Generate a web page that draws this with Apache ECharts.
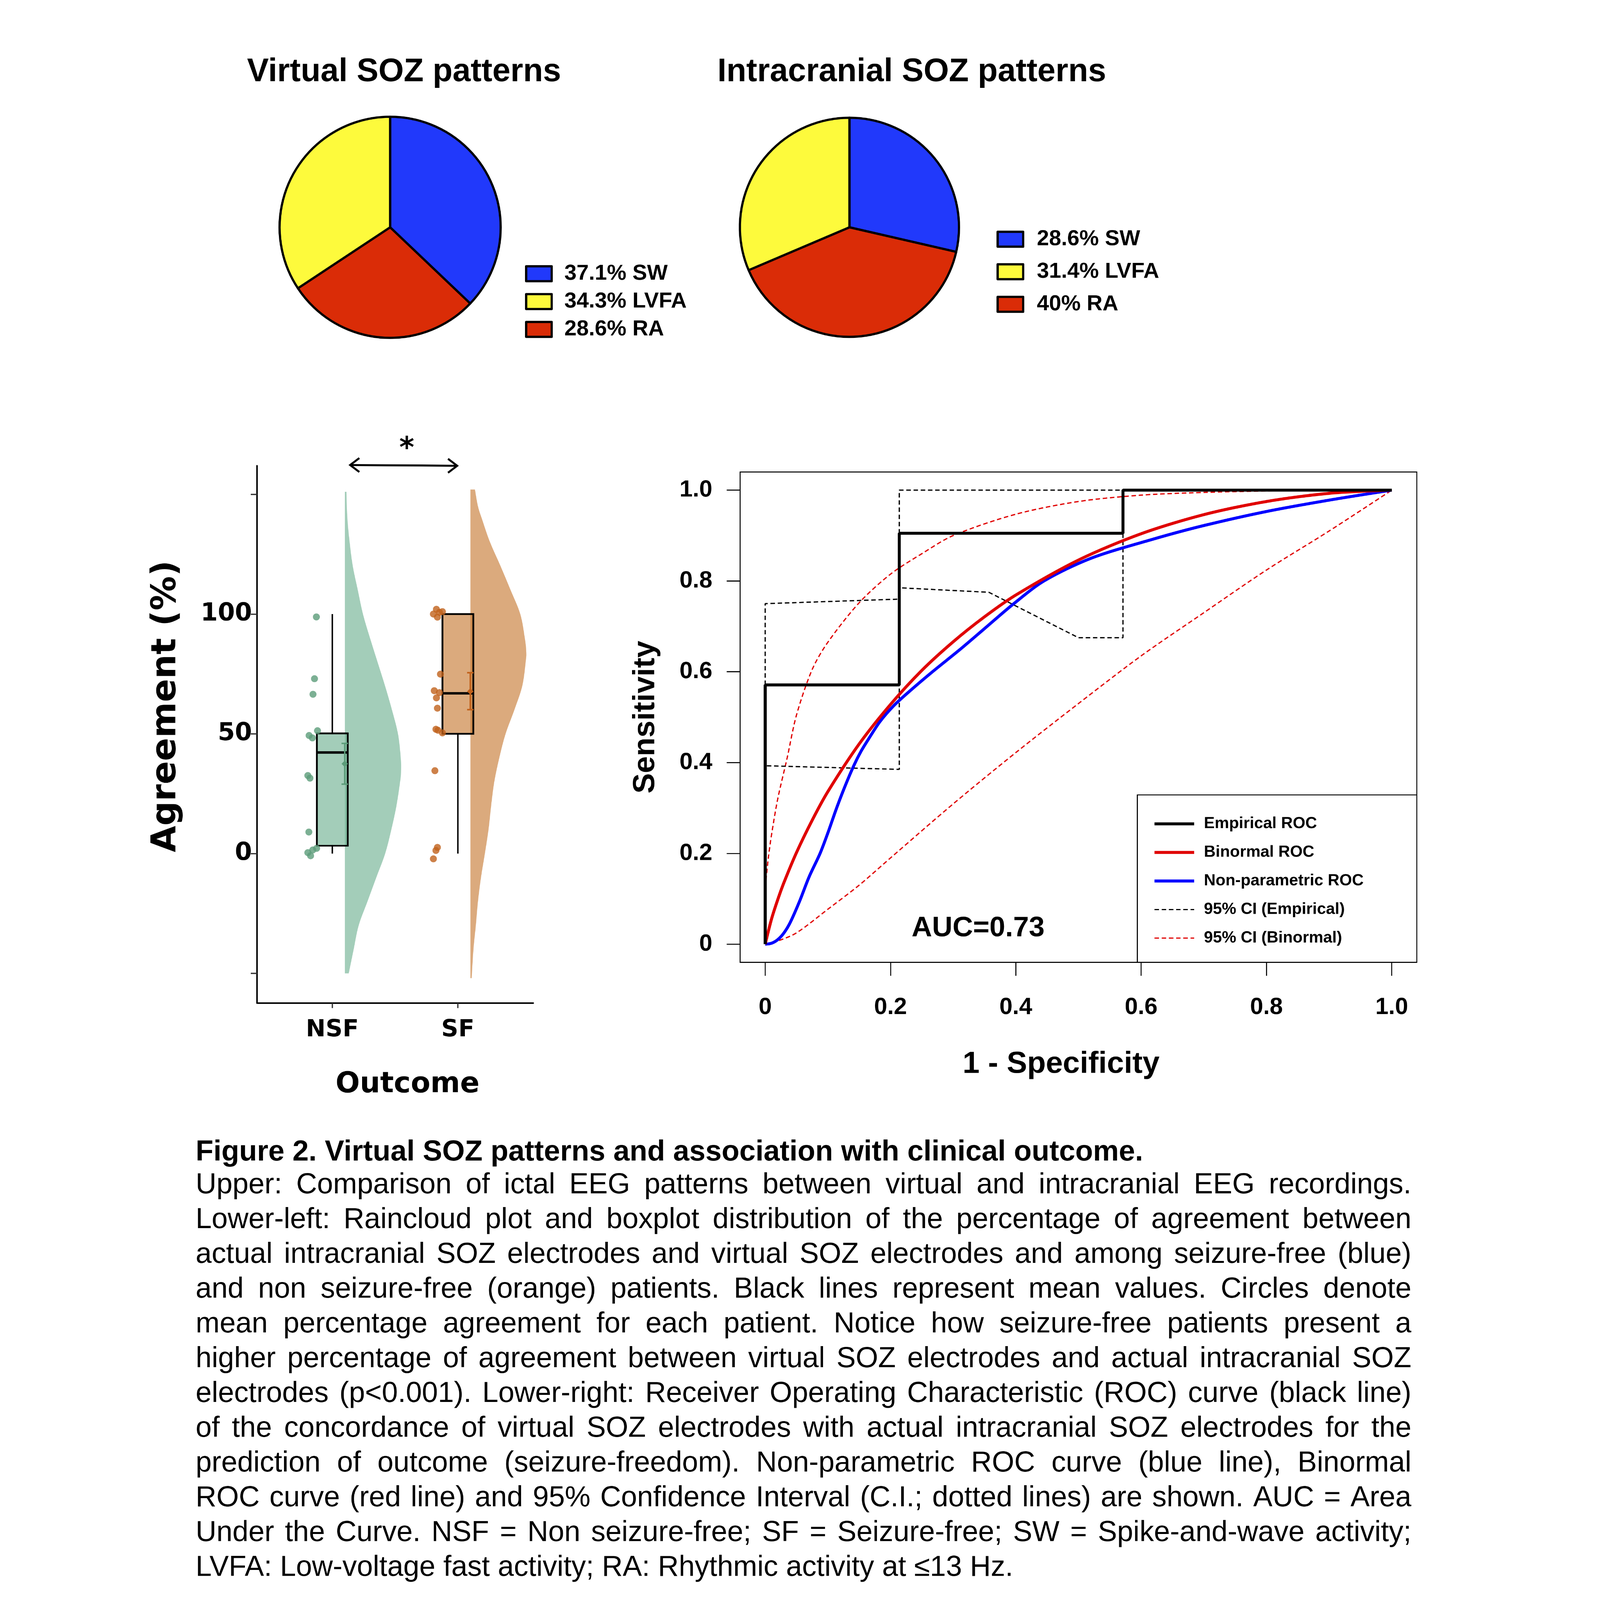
<!DOCTYPE html>
<html><head><meta charset="utf-8">
<script src="https://cdn.jsdelivr.net/npm/echarts@6/dist/echarts.min.js"></script>
<style>html,body{margin:0;padding:0;background:#fff;overflow:hidden}#c{width:5608px;height:6441px;transform-origin:0 0}</style>
</head><body><div id="c"></div>
<script>
// ---------------- DATA ----------------
const pieCategories = ['SW', 'LVFA', 'RA'];
const virtualPct = [37.1, 34.3, 28.6];
const intracranialPct = [28.6, 31.4, 40];
const sliceOrder = ['SW', 'RA', 'LVFA'];

const groups = ['NSF', 'SF'];
const nsfJitterX = [0.873, 0.858, 0.846, 0.882, 0.815, 0.841, 0.805, 0.822, 0.813, 0.875, 0.844, 0.805, 0.827];
const nsfAgreement = [98.8, 73, 66.5, 51.3, 49.3, 48.3, 32.6, 31.5, 9, 2.2, 1.5, 0.4, -0.9];
const sfJitterX = [1.829, 1.805, 1.853, 1.877, 1.837, 1.861, 1.812, 1.853, 1.829, 1.837, 1.825, 1.841, 1.877, 1.817, 1.837, 1.825, 1.805];
const sfAgreement = [102, 100, 100.7, 101, 98.7, 74.9, 68, 67.2, 65, 60.7, 51.9, 51.5, 50.4, 34.6, 2.6, 1.3, -2.2];
// [lower whisker, Q1, median, Q3, upper whisker]
const boxStats = [[0, 3.3, 42.2, 50.2, 100], [0, 50, 66.9, 100, 100]];
// [mean, lower, upper]
const meanStats = [[37.5, 29.0, 46.0], [67.7, 60.1, 75.5]];
const nsfCloudY = [151, 140, 130, 120, 110, 100, 90, 80, 70, 60, 50, 40, 34, 30, 20, 10, 0, -10, -20, -30, -40, -50];
const nsfCloudW = [0.012, 0.02, 0.038, 0.063, 0.103, 0.144, 0.2, 0.26, 0.32, 0.375, 0.423, 0.445, 0.447, 0.44, 0.411, 0.37, 0.321, 0.25, 0.18, 0.11, 0.07, 0.031];
const sfCloudY = [152, 145, 140, 130, 120, 110, 100, 90, 84, 80, 70, 60, 50, 40, 30, 20, 10, 0, -10, -20, -30, -40, -52];
const sfCloudW = [0.036, 0.06, 0.09, 0.156, 0.24, 0.32, 0.397, 0.433, 0.445, 0.44, 0.413, 0.35, 0.28, 0.23, 0.19, 0.165, 0.144, 0.115, 0.084, 0.06, 0.043, 0.024, 0.01];
const agreementTicks = [-50, 0, 50, 100, 150];
const agreementLabels = [0, 50, 100];

const rocTicks = [0, 0.2, 0.4, 0.6, 0.8, 1];
const empiricalFpr = [0, 0, 0.214, 0.214, 0.571, 0.571, 1];
const empiricalTpr = [0, 0.571, 0.571, 0.905, 0.905, 1, 1];
const binormalFpr = [0, 0.01, 0.02, 0.03, 0.05, 0.075, 0.1, 0.15, 0.2, 0.25, 0.3, 0.35, 0.4, 0.5, 0.6, 0.7, 0.8, 0.9, 1];
const binormalTpr = [0, 0.055, 0.098, 0.136, 0.202, 0.273, 0.336, 0.441, 0.528, 0.603, 0.666, 0.721, 0.769, 0.846, 0.904, 0.946, 0.975, 0.993, 1];
const nonparFpr = [0, 0.01, 0.02, 0.03, 0.04, 0.055, 0.07, 0.0876, 0.1, 0.114, 0.128, 0.142, 0.153, 0.165, 0.183, 0.205, 0.227, 0.267, 0.31, 0.35, 0.395, 0.445, 0.52, 0.619, 0.7, 0.8, 0.9, 1];
const nonparTpr = [0, 0.002, 0.01, 0.025, 0.048, 0.095, 0.148, 0.2, 0.245, 0.3, 0.35, 0.395, 0.425, 0.452, 0.49, 0.525, 0.553, 0.6, 0.648, 0.695, 0.748, 0.8, 0.85, 0.892, 0.922, 0.953, 0.978, 1];
const empCiUpperFpr = [0, 0, 0.214, 0.214, 1];
const empCiUpperTpr = [0, 0.75, 0.76, 1, 1];
const empCiLowerFpr = [0, 0, 0.214, 0.214, 0.357, 0.5, 0.571, 0.571, 1];
const empCiLowerTpr = [0, 0.393, 0.385, 0.785, 0.775, 0.675, 0.675, 1, 1];
const binCiUpperFpr = [0, 0.005, 0.01, 0.02, 0.035, 0.05, 0.075, 0.1, 0.15, 0.2, 0.25, 0.3, 0.4, 0.5, 0.6, 0.7, 0.8, 1];
const binCiUpperTpr = [0.125, 0.19, 0.24, 0.32, 0.41, 0.505, 0.605, 0.665, 0.752, 0.815, 0.86, 0.9, 0.947, 0.975, 0.989, 0.995, 0.998, 1];
const binCiLowerFpr = [0, 0.02, 0.05, 0.1, 0.15, 0.2, 0.3, 0.4, 0.5, 0.6, 0.7, 0.8, 0.9, 1];
const binCiLowerTpr = [0, 0.007, 0.025, 0.077, 0.13, 0.19, 0.309, 0.422, 0.53, 0.635, 0.73, 0.824, 0.91, 1];
const aucText = 'AUC=0.73';

const captionTitle = 'Figure 2. Virtual SOZ patterns and association with clinical outcome.';
const captionLines = [
  'Upper: Comparison of ictal EEG patterns between virtual and intracranial EEG recordings.',
  'Lower-left: Raincloud plot and boxplot distribution of the percentage of agreement between',
  'actual intracranial SOZ electrodes and virtual SOZ electrodes and among seizure-free (blue)',
  'and non seizure-free (orange) patients. Black lines represent mean values. Circles denote',
  'mean percentage agreement for each patient. Notice how seizure-free patients present a',
  'higher percentage of agreement between virtual SOZ electrodes and actual intracranial SOZ',
  'electrodes (p<0.001). Lower-right: Receiver Operating Characteristic (ROC) curve (black line)',
  'of the concordance of virtual SOZ electrodes with actual intracranial SOZ electrodes for the',
  'prediction of outcome (seizure-freedom). Non-parametric ROC curve (blue line), Binormal',
  'ROC curve (red line) and 95% Confidence Interval (C.I.; dotted lines) are shown. AUC = Area',
  'Under the Curve. NSF = Non seizure-free; SF = Seizure-free; SW = Spike-and-wave activity;',
  'LVFA: Low-voltage fast activity; RA: Rhythmic activity at \u226413 Hz.'
];

// ---------------- STYLE ----------------
const FA = '"Liberation Sans", Arial, sans-serif';
const FD = '"DejaVu Sans", sans-serif';
const pieColors = { SW: '#2139fb', LVFA: '#fdfa3c', RA: '#da2c07' };
const pointColors = ['#5b9c79', '#c1611b'];
const fillColors = ['rgba(113,178,147,0.65)', 'rgba(200,125,55,0.65)'];
const cloudOffset = 0.10, boxHalf = 0.123, errOffset = 0.099;

// the drawing is laid out on a 5608 x 6441 page; if the window is smaller, fit it (same aspect, centred)
const container = document.getElementById('c');
const S = Math.min(window.innerWidth / 5608, window.innerHeight / 6441);
if (S > 0 && S < 0.999) {
  const dx = Math.max(0, (window.innerWidth - 5608 * S) / 2);
  container.style.transform = 'translate(' + dx + 'px,0px) scale(' + S + ')';
}

const zip = (a, b) => a.map((v, i) => [v, b[i]]);
const pctName = (pcts, cat) => pcts[pieCategories.indexOf(cat)] + '% ' + cat;
const pieData = pcts => sliceOrder.map(cat => ({
  name: pctName(pcts, cat), value: pcts[pieCategories.indexOf(cat)], itemStyle: { color: pieColors[cat] }
}));

const chart = echarts.init(container, null, { renderer: 'canvas' });
const cloudSets = [[nsfCloudY, nsfCloudW], [sfCloudY, sfCloudW]];

// smooth outline through pixel points (Catmull-Rom -> cubic Bezier), rendering only
function smoothPath(pts) {
  let d = '';
  for (let i = 0; i < pts.length - 1; i++) {
    const p0 = pts[Math.max(0, i - 1)], p1 = pts[i], p2 = pts[i + 1], p3 = pts[Math.min(pts.length - 1, i + 2)];
    const c1 = [p1[0] + (p2[0] - p0[0]) / 6, p1[1] + (p2[1] - p0[1]) / 6];
    const c2 = [p2[0] - (p3[0] - p1[0]) / 6, p2[1] - (p3[1] - p1[1]) / 6];
    d += ' C' + c1[0] + ' ' + c1[1] + ' ' + c2[0] + ' ' + c2[1] + ' ' + p2[0] + ' ' + p2[1];
  }
  return d;
}

const rocLine = (name, fpr, tpr, color, width, dashed, smooth) => ({
  name, type: 'line', xAxisIndex: 1, yAxisIndex: 1, data: zip(fpr, tpr),
  showSymbol: false, symbol: 'none', smooth: smooth ? 0.3 : false,
  color, itemStyle: { color }, lineStyle: { color, width, type: dashed ? [18, 11] : 'solid' }, silent: true, z: dashed ? 3 : 4
});

// caption layout (justified lines)
const capLeft = 371, capRight = 5265, capSize = 116, capStep = 140, capFirstY = 4772, capTitleY = 4640;
const meas = document.createElement('canvas').getContext('2d');
meas.font = capSize + 'px "Liberation Sans"';
const capGraphics = [];
capGraphics.push({ type: 'text', x: capLeft, y: capTitleY, style: { text: captionTitle, font: 'bold 117px "Liberation Sans"', fill: '#000', textAlign: 'left', textVerticalAlign: 'middle' } });
captionLines.forEach((line, i) => {
  const y = capFirstY + i * capStep;
  if (i === captionLines.length - 1) {
    capGraphics.push({ type: 'text', x: capLeft, y, style: { text: line, font: capSize + 'px "Liberation Sans"', fill: '#000', textAlign: 'left', textVerticalAlign: 'middle' } });
    return;
  }
  const words = line.split(' ');
  const ws = words.map(w => meas.measureText(w).width);
  const tot = ws.reduce((a, b) => a + b, 0);
  const gap = (capRight - capLeft - tot) / (words.length - 1);
  let x = capLeft;
  words.forEach((w, j) => {
    capGraphics.push({ type: 'text', x, y, style: { text: w, font: capSize + 'px "Liberation Sans"', fill: '#000', textAlign: 'left', textVerticalAlign: 'middle' } });
    x += ws[j] + gap;
  });
});

const pieLegendText = pad => ({ fontFamily: FA, fontWeight: 'bold', fontSize: 88, color: '#000', padding: [0, 0, 0, pad] });

const option = {
  animation: false,
  backgroundColor: '#ffffff',
  title: [
    { text: 'Virtual SOZ patterns', left: 1210, top: 225, textAlign: 'center', padding: 0, textStyle: { fontFamily: FA, fontWeight: 'bold', fontSize: 131, color: '#000' } },
    { text: 'Intracranial SOZ patterns', left: 3254, top: 225, textAlign: 'center', padding: 0, textStyle: { fontFamily: FA, fontWeight: 'bold', fontSize: 131, color: '#000' } }
  ],
  legend: [
    { data: pieCategories.map(c => pctName(virtualPct, c)), orient: 'vertical', left: 1697, top: 1058, padding: 0,
      itemWidth: 103, itemHeight: 60, itemGap: 24, icon: 'rect', selectedMode: false,
      itemStyle: { borderColor: '#000', borderWidth: 9 }, textStyle: pieLegendText(46) },
    { data: pieCategories.map(c => pctName(intracranialPct, c)), orient: 'vertical', left: 3595, top: 919, padding: 0,
      itemWidth: 103, itemHeight: 60, itemGap: 43, icon: 'rect', selectedMode: false,
      itemStyle: { borderColor: '#000', borderWidth: 9 }, textStyle: pieLegendText(50) },
    { data: ['Empirical ROC', 'Binormal ROC', 'Non-parametric ROC', '95% CI (Empirical)', '95% CI (Binormal)'],
      orient: 'vertical', left: 4225, top: 3284, padding: 0, itemWidth: 160, itemHeight: 40, itemGap: 50, selectedMode: false,
      itemStyle: { color: 'rgba(0,0,0,0)', borderColor: 'rgba(0,0,0,0)', borderWidth: 0, opacity: 0 },
      lineStyle: { width: 'inherit', type: 'inherit' },
      textStyle: { fontFamily: FA, fontWeight: 'bold', fontSize: 65, color: '#000', padding: [0, 0, 0, 34] } }
  ],
  grid: [
    { left: 618, top: 1875, width: 1112, height: 2163, outerBoundsMode: 'none', containLabel: false },
    { left: 2563, top: 1900, width: 2724, height: 1974, show: true, borderColor: '#000', borderWidth: 4, backgroundColor: 'transparent', outerBoundsMode: 'none', containLabel: false }
  ],
  xAxis: [
    { type: 'value', gridIndex: 0, min: 0.40, max: 2.60,
      axisLine: { show: true, onZero: false, lineStyle: { color: '#000', width: 6 } },
      axisTick: { show: true, customValues: [1, 2], length: 20, lineStyle: { color: '#333', width: 5 } },
      axisLabel: { customValues: [1, 2], formatter: v => groups[Math.round(v) - 1], margin: 62, fontFamily: FD, fontWeight: 'bold', fontSize: 95, color: '#000' },
      splitLine: { show: false },
      name: 'Outcome', nameLocation: 'middle', nameGap: 272, nameMoveOverlap: false,
      nameTextStyle: { fontFamily: FD, fontWeight: 'bold', fontSize: 115, color: '#000', padding: [0, 0, 0, 100] } },
    { type: 'value', gridIndex: 1, min: -0.04, max: 1.04,
      axisLine: { show: false, onZero: false },
      axisTick: { show: true, customValues: rocTicks, length: 54, lineStyle: { color: '#000', width: 4 } },
      axisLabel: { customValues: rocTicks, formatter: v => v === 0 ? '0' : v.toFixed(1), margin: 134, fontFamily: FA, fontWeight: 'bold', fontSize: 95, color: '#000' },
      splitLine: { show: false },
      name: '1 - Specificity', nameLocation: 'middle', nameGap: 350, nameMoveOverlap: false,
      nameTextStyle: { fontFamily: FA, fontWeight: 'bold', fontSize: 123, color: '#000', padding: [0, 140, 0, 0] } }
  ],
  yAxis: [
    { type: 'value', gridIndex: 0, min: -62.4, max: 161.9,
      axisLine: { show: true, onZero: false, lineStyle: { color: '#000', width: 6 } },
      axisTick: { show: true, customValues: agreementTicks, length: 25, lineStyle: { color: '#333', width: 5 } },
      axisLabel: { customValues: agreementLabels, formatter: v => String(v), margin: 20, fontFamily: FD, fontWeight: 'bold', fontSize: 99, color: '#000' },
      splitLine: { show: false },
      name: 'Agreement (%)', nameLocation: 'middle', nameGap: 296, nameRotate: 90, nameMoveOverlap: false,
      nameTextStyle: { fontFamily: FD, fontWeight: 'bold', fontSize: 138, color: '#000', padding: [0, 0, 0, 226] } },
    { type: 'value', gridIndex: 1, min: -0.04, max: 1.04,
      axisLine: { show: false, onZero: false },
      axisTick: { show: true, customValues: rocTicks, length: 54, lineStyle: { color: '#000', width: 4 } },
      axisLabel: { customValues: rocTicks, formatter: v => v === 0 ? '0' : v.toFixed(1), margin: 112, fontFamily: FA, fontWeight: 'bold', fontSize: 95, color: '#000' },
      splitLine: { show: false },
      name: 'Sensitivity', nameLocation: 'middle', nameGap: 318, nameRotate: 90, nameMoveOverlap: false,
      nameTextStyle: { fontFamily: FA, fontWeight: 'bold', fontSize: 123, color: '#000' } }
  ],
  series: [
    { type: 'pie', name: 'Virtual SOZ patterns', center: [1154, 915], radius: 445, startAngle: 90, clockwise: true,
      label: { show: false }, labelLine: { show: false }, silent: true, emphasis: { disabled: true },
      itemStyle: { borderColor: '#000', borderWidth: 9 }, data: pieData(virtualPct) },
    { type: 'pie', name: 'Intracranial SOZ patterns', center: [3003, 915], radius: 441, startAngle: 90, clockwise: true,
      label: { show: false }, labelLine: { show: false }, silent: true, emphasis: { disabled: true },
      itemStyle: { borderColor: '#000', borderWidth: 9 }, data: pieData(intracranialPct) },
    { type: 'custom', xAxisIndex: 0, yAxisIndex: 0, silent: true, z: 2,
      data: groups.map((g, i) => [i + 1, 0]),
      renderItem: (params, api) => {
        const i = params.dataIndex;
        const base = api.value(0) + cloudOffset;
        const [ys, ws] = cloudSets[i];
        const edge = ys.map((y, k) => api.coord([base + ws[k], y]));
        const top = api.coord([base, ys[0]]), bot = api.coord([base, ys[ys.length - 1]]);
        const d = 'M' + top[0] + ' ' + top[1] + ' L' + edge[0][0] + ' ' + edge[0][1] + smoothPath(edge) + ' L' + bot[0] + ' ' + bot[1] + ' Z';
        return { type: 'path', shape: { pathData: d }, style: { fill: fillColors[i], stroke: null } };
      } },
    { type: 'custom', xAxisIndex: 0, yAxisIndex: 0, silent: true, z: 3,
      data: boxStats.map((s, i) => [i + 1, ...s]),
      renderItem: (params, api) => {
        const x = api.value(0);
        const lo = api.value(1), q1 = api.value(2), md = api.value(3), q3 = api.value(4), hi = api.value(5);
        const c = y => api.coord([x, y]);
        const tl = api.coord([x - boxHalf, q3]), br = api.coord([x + boxHalf, q1]);
        const ml = api.coord([x - boxHalf, md]), mr = api.coord([x + boxHalf, md]);
        const ln = (a, b, w) => ({ type: 'line', shape: { x1: a[0], y1: a[1], x2: b[0], y2: b[1] }, style: { stroke: '#000', lineWidth: w } });
        return { type: 'group', children: [
          ln(c(lo), c(q1), 6), ln(c(q3), c(hi), 6),
          { type: 'rect', shape: { x: tl[0], y: tl[1], width: br[0] - tl[0], height: br[1] - tl[1] }, style: { fill: fillColors[params.dataIndex], stroke: '#000', lineWidth: 7 } },
          ln(ml, mr, 10)
        ] };
      } },
    { type: 'scatter', name: 'NSF', xAxisIndex: 0, yAxisIndex: 0, silent: true, z: 4, symbolSize: 28,
      itemStyle: { color: pointColors[0] }, data: zip(nsfJitterX, nsfAgreement) },
    { type: 'scatter', name: 'SF', xAxisIndex: 0, yAxisIndex: 0, silent: true, z: 4, symbolSize: 28,
      itemStyle: { color: pointColors[1] }, data: zip(sfJitterX, sfAgreement) },
    { type: 'custom', xAxisIndex: 0, yAxisIndex: 0, silent: true, z: 5,
      data: meanStats.map((m, i) => [i + 1 + errOffset, ...m]),
      renderItem: (params, api) => {
        const x = api.value(0);
        const pM = api.coord([x, api.value(1)]), pLo = api.coord([x, api.value(2)]), pHi = api.coord([x, api.value(3)]);
        const col = pointColors[params.dataIndex], cap = 13, d = 13;
        const ln = (x1, y1, x2, y2) => ({ type: 'line', shape: { x1, y1, x2, y2 }, style: { stroke: col, lineWidth: 6 } });
        return { type: 'group', children: [
          ln(pLo[0], pLo[1], pHi[0], pHi[1]),
          ln(pLo[0] - cap, pLo[1], pLo[0] + cap, pLo[1]),
          ln(pHi[0] - cap, pHi[1], pHi[0] + cap, pHi[1]),
          { type: 'polygon', shape: { points: [[pM[0], pM[1] - d], [pM[0] + d, pM[1]], [pM[0], pM[1] + d], [pM[0] - d, pM[1]]] }, style: { fill: col } }
        ] };
      } },
    rocLine('95% CI (Binormal)', binCiUpperFpr, binCiUpperTpr, '#e00000', 5, true, true),
    rocLine('95% CI (Binormal)', binCiLowerFpr, binCiLowerTpr, '#e00000', 5, true, true),
    rocLine('95% CI (Empirical)', empCiUpperFpr, empCiUpperTpr, '#000000', 5, true, false),
    rocLine('95% CI (Empirical)', empCiLowerFpr, empCiLowerTpr, '#000000', 5, true, false),
    rocLine('Non-parametric ROC', nonparFpr, nonparTpr, '#0000ff', 12, false, true),
    rocLine('Binormal ROC', binormalFpr, binormalTpr, '#e00000', 12, false, true),
    rocLine('Empirical ROC', empiricalFpr, empiricalTpr, '#000000', 12, false, false)
  ],
  graphic: [
    { type: 'polyline', shape: { points: [[991, 1872], [1426, 1875]] }, style: { stroke: '#000', lineWidth: 8, fill: null } },
    { type: 'polyline', shape: { points: [[1030, 1844], [993, 1872], [1030, 1900]] }, style: { stroke: '#000', lineWidth: 8, fill: null } },
    { type: 'polyline', shape: { points: [[1387, 1847], [1424, 1875], [1387, 1903]] }, style: { stroke: '#000', lineWidth: 8, fill: null } },
    { type: 'text', x: 1221, y: 1810, style: { text: '*', font: 'bold 115px "DejaVu Sans"', fill: '#000', textAlign: 'center', textVerticalAlign: 'middle' } },
    { type: 'rect', shape: { x: 4162, y: 3200, width: 1125, height: 674 }, style: { fill: null, stroke: '#000', lineWidth: 4 }, z: 10 },
    { type: 'text', x: 3521, y: 3738, style: { text: aucText, font: 'bold 114px "Liberation Sans"', fill: '#000', textAlign: 'center', textVerticalAlign: 'middle' } },
    ...capGraphics
  ]
};
chart.setOption(option);
</script>
</body></html>
